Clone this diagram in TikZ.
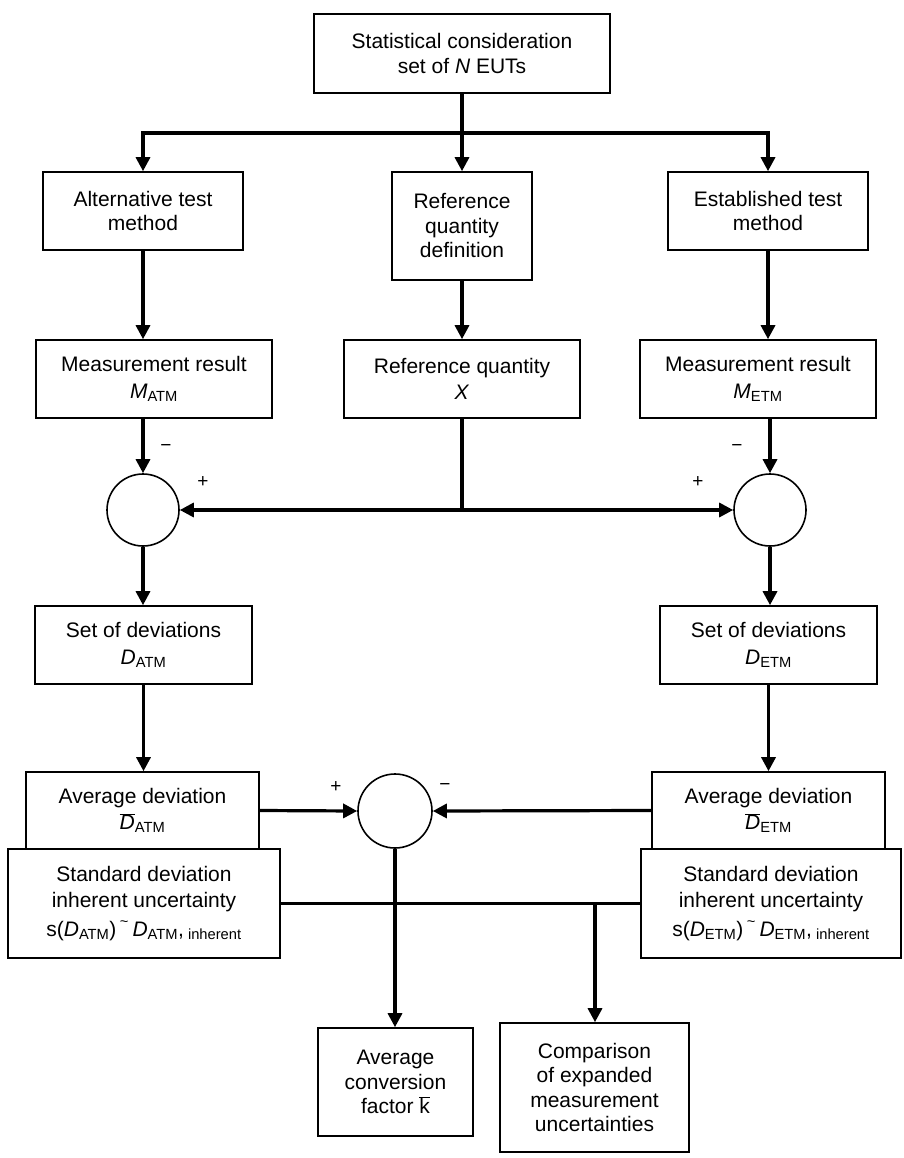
\documentclass[tikz,border=0pt]{standalone}
\usepackage{fontspec}
\setmainfont{Liberation Sans}
\usetikzlibrary{arrows.meta}
\newcommand{\lbl}{\fontsize{21}{24.5}\selectfont}
\newcommand{\sgn}{\fontsize{19}{20}\selectfont}
\newcommand{\Dbar}{$\overline{\mbox{\textit{D}}}$}
\newcommand{\tld}{\,\raisebox{0.25ex}{\textsuperscript{\char`\~}}\,}

\begin{document}
\begin{tikzpicture}[x=1pt,y=-1pt,
  box/.style={draw, line width=1.6pt, align=center, inner sep=0pt, font=\lbl},
  conn/.style={line width=3.2pt},
  arr/.style={conn, -{Triangle[length=14pt,width=14pt]}},
  sumnode/.style={circle, draw, line width=1.6pt, minimum size=72pt, inner sep=0pt},
  sign/.style={font=\sgn, inner sep=0pt}]
\useasboundingbox (0,0) rectangle (903,1158);

\node[box, minimum width=296pt, minimum height=79pt] (top) at (462,53.5) {Statistical consideration\\set of \textit{N} EUTs};
\node[box, minimum width=200pt, minimum height=78pt] (atm) at (143,211) {Alternative test\\method};
\node[box, minimum width=140pt, minimum height=108pt] (ref) at (462,226) {Reference\\quantity\\definition};
\node[box, minimum width=200pt, minimum height=78pt] (etm) at (768,211) {Established test\\method};

\node[box, minimum width=236pt, minimum height=78pt] (matm) at (154,379) {Measurement result\\[2pt]\textit{M}\textsubscript{ATM}};
\node[box, minimum width=236pt, minimum height=78pt] (xref) at (462,379) {Reference quantity\\[2pt]\textit{X}};
\node[box, minimum width=236pt, minimum height=78pt] (metm) at (758,379) {Measurement result\\[2pt]\textit{M}\textsubscript{ETM}};

\node[sumnode] (catm) at (143,510) {};
\node[sumnode] (cetm) at (770,510) {};
\coordinate (splitT) at (462,133);
\coordinate (splitX) at (462,510);

\node[sign] at (166,448) {\char"2212};
\node[sign] at (203,482) {+};
\node[sign] at (737,448) {\char"2212};
\node[sign] at (698,482) {+};

\node[box, minimum width=217pt, minimum height=78pt] (datm) at (143.5,645) {Set of deviations\\[2pt]\textit{D}\textsubscript{ATM}};
\node[box, minimum width=217pt, minimum height=78pt] (detm) at (768.5,645) {Set of deviations\\[2pt]\textit{D}\textsubscript{ETM}};

\node[box, minimum width=233pt, minimum height=77pt] (avatm) at (142.5,810.5) {Average deviation\\[2pt]\Dbar\textsubscript{ATM}};
\node[box, minimum width=233pt, minimum height=77pt] (avetm) at (768.5,810.5) {Average deviation\\[2pt]\Dbar\textsubscript{ETM}};
\node[sumnode, minimum size=74pt] (comb) at (395,811) {};
\node[sign] at (336,787) {+};
\node[sign] at (445,787) {\char"2212};

\node[box, minimum width=272pt, minimum height=109pt] (sdatm) at (144,903.5) {Standard deviation\\[2pt]inherent uncertainty\\[4pt]s(\textit{D}\textsubscript{ATM})\tld\textit{D}\textsubscript{ATM},\textsubscript{ inherent}};
\node[box, minimum width=260pt, minimum height=109pt] (sdetm) at (771,903.5) {Standard deviation\\[2pt]inherent uncertainty\\[4pt]s(\textit{D}\textsubscript{ETM})\tld\textit{D}\textsubscript{ETM},\textsubscript{ inherent}};
\coordinate (splitC) at (595,903.5);

\node[box, minimum width=155pt, minimum height=108pt] (kbox) at (395.5,1082) {Average\\conversion\\factor $\overline{\mbox{k}}$};
\node[box, minimum width=189pt, minimum height=129pt] (cmp) at (594.5,1087.5) {Comparison\\of expanded\\measurement\\uncertainties};

\draw[conn] (top.south) -- (splitT);
\draw[arr] (splitT) -| (atm.north);
\draw[arr] (splitT) -- (ref.north);
\draw[arr] (splitT) -| (etm.north);
\draw[arr] (atm.south) -- (atm.south |- matm.north);
\draw[arr] (ref.south) -- (xref.north);
\draw[arr] (etm.south) -- (etm.south |- metm.north);
\draw[arr] (catm |- matm.south) -- (catm.north);
\draw[arr] (cetm |- metm.south) -- (cetm.north);
\draw[conn] (xref.south) -- (splitX);
\draw[arr] (splitX) -- (catm.east);
\draw[arr] (splitX) -- (cetm.west);
\draw[arr] (catm.south) -- (catm.south |- datm.north);
\draw[arr] (cetm.south) -- (cetm.south |- detm.north);
\draw[arr] (datm.south) -- (datm.south |- avatm.north);
\draw[arr] (detm.south) -- (detm.south |- avetm.north);
\draw[arr] (avatm.east) -- (comb.west);
\draw[arr] (avetm.west) -- (comb.east);
\draw[conn] (sdatm.east) -- (sdetm.west);
\draw[arr] (comb.south) -- (comb.south |- kbox.north);
\draw[arr] (splitC) -- (splitC |- cmp.north);
\end{tikzpicture}
\end{document}
